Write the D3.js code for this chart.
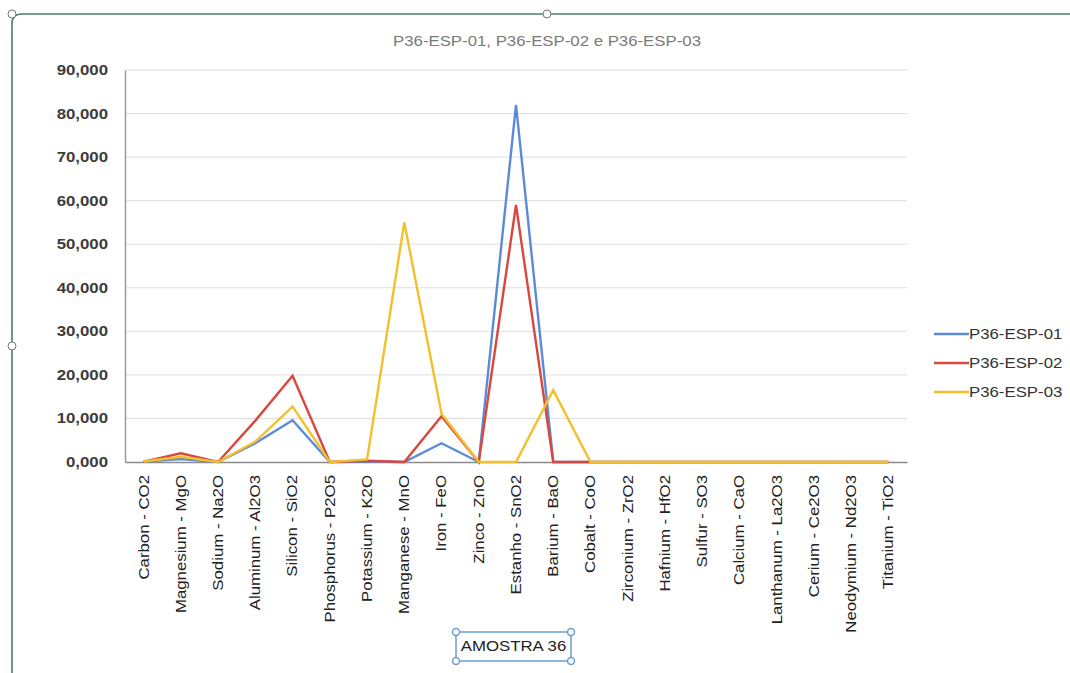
<!DOCTYPE html>
<html>
<head>
<meta charset="utf-8">
<script src="https://cdn.jsdelivr.net/npm/d3@7"></script>
<style>
  html, body { margin: 0; padding: 0; background: #fff; }
  svg { display: block; font-family: "Liberation Sans", Arial, sans-serif; }
</style>
</head>
<body>
<svg id="chart" width="1070" height="673"></svg>
<script>
// Oxide composition of sample 36 (percent by mass)
const categories = [
  "Carbon - CO2", "Magnesium - MgO", "Sodium - Na2O", "Aluminum - Al2O3",
  "Silicon - SiO2", "Phosphorus - P2O5", "Potassium - K2O", "Manganese - MnO",
  "Iron - FeO", "Zinco - ZnO", "Estanho - SnO2", "Barium - BaO", "Cobalt - CoO",
  "Zirconium - ZrO2", "Hafnium - HfO2", "Sulfur - SO3", "Calcium - CaO",
  "Lanthanum - La2O3", "Cerium - Ce2O3", "Neodymium - Nd2O3", "Titanium - TiO2"
];
const seriesNames = ["P36-ESP-01", "P36-ESP-02", "P36-ESP-03"];
const esp01 = [0.1, 0.7, 0.0, 4.3, 9.6, 0.0, 0.1, 0.0, 4.3, 0.0, 82.0, 0.0, 0.0, 0, 0, 0, 0, 0, 0, 0, 0];
const esp02 = [0.1, 2.0, 0.0, 9.5, 19.8, 0.0, 0.3, 0.0, 10.5, 0.0, 59.0, 0.0, 0.0, 0, 0, 0, 0, 0, 0, 0, 0];
const esp03 = [0.1, 1.2, 0.0, 4.7, 12.7, 0.0, 0.6, 55.0, 11.1, 0.0, 0.0, 16.5, 0.0, 0, 0, 0, 0, 0, 0, 0, 0];
const yTicks = [0, 10, 20, 30, 40, 50, 60, 70, 80, 90];
const colors = ["#5b8bd8", "#d9473f", "#f2c02c"];
const title = "P36-ESP-01, P36-ESP-02 e P36-ESP-03";
const axisTitle = "AMOSTRA 36";

const series = [esp01, esp02, esp03];
const svg = d3.select("#chart");

const plot = { left: 125, right: 907, top: 70, bottom: 462 };
const fontSize = 14;
const stretch = 1.2; // widening of the typeface along the reading direction

const x = d3.scaleBand().domain(categories).range([plot.left, plot.right]);
const y = d3.scaleLinear().domain([0, 90]).range([plot.bottom, plot.top]);

const ptBR = d3.formatLocale({ decimal: ",", thousands: ".", grouping: [3], currency: ["R$", ""] });
const fmt = ptBR.format(".3f");

// Horizontal text with a widened face, anchored at (px, py)
function wideText(parent, px, py, str, anchor) {
  return parent.append("text")
    .attr("transform", `translate(${px},${py}) scale(${stretch},1)`)
    .attr("text-anchor", anchor)
    .attr("dy", "0.35em")
    .attr("font-size", fontSize)
    .text(str);
}

// Chart object frame (selection outline)
const frameColor = "#4f7d68";
svg.append("path")
  .attr("d", "M1070,14 L22,14 Q12,14 12,24 L12,673")
  .attr("fill", "none").attr("stroke", frameColor).attr("stroke-width", 1.6);
[[12, 14], [547, 14], [12, 346]].forEach(([cx, cy]) => {
  svg.append("circle").attr("cx", cx).attr("cy", cy).attr("r", 4)
    .attr("fill", "#fff").attr("stroke", "#777").attr("stroke-width", 1);
});

// Title
wideText(svg, 547, 41, title, "middle").attr("fill", "#7a7a7a");

// Gridlines
svg.append("g")
  .selectAll("line")
  .data(yTicks.filter(d => d > 0))
  .join("line")
  .attr("x1", plot.left).attr("x2", plot.right)
  .attr("y1", d => y(d)).attr("y2", d => y(d))
  .attr("stroke", "#dedede").attr("stroke-width", 1);

// Y axis
const yAxis = svg.append("g")
  .attr("transform", `translate(${plot.left},0)`)
  .call(d3.axisLeft(y).tickValues(yTicks).tickFormat(fmt).tickSize(0).tickPadding(0));
yAxis.select(".domain").attr("stroke", "#9a9a9a").attr("stroke-width", 1.5);
yAxis.selectAll("text")
  .attr("x", null)
  .attr("transform", `translate(-17,0) scale(${stretch},1)`)
  .attr("font-size", fontSize).attr("fill", "#3c3c3c").attr("font-weight", "bold")
  .attr("font-family", "'Liberation Sans', Arial, sans-serif");

// X axis with category names reading upward
const xAxis = svg.append("g")
  .attr("transform", `translate(0,${plot.bottom})`)
  .call(d3.axisBottom(x).tickSize(0).tickPadding(0));
xAxis.select(".domain").attr("stroke", "#8a8a8a").attr("stroke-width", 1.5);
xAxis.selectAll("text")
  .attr("font-size", fontSize).attr("fill", "#222")
  .attr("font-family", "'Liberation Sans', Arial, sans-serif")
  .attr("transform", `translate(0,13) rotate(-90) scale(${stretch},1)`)
  .attr("text-anchor", "end")
  .attr("x", 0).attr("y", 0).attr("dy", "0.35em");

// Series lines
const line = d3.line()
  .x((d, i) => x(categories[i]) + x.bandwidth() / 2)
  .y(d => y(d));

series.forEach((vals, k) => {
  svg.append("path")
    .datum(vals)
    .attr("d", line)
    .attr("fill", "none")
    .attr("stroke", colors[k])
    .attr("stroke-width", 2.4)
    .attr("stroke-linejoin", "miter");
});

// Legend
const legend = svg.append("g").attr("transform", "translate(934,334)");
seriesNames.forEach((name, k) => {
  const g = legend.append("g").attr("transform", `translate(0,${k * 29})`);
  g.append("line").attr("x1", 0).attr("x2", 35).attr("y1", 0).attr("y2", 0)
    .attr("stroke", colors[k]).attr("stroke-width", 2.4);
  wideText(g, 35, 0, name, "start").attr("fill", "#333");
});

// Horizontal axis title box
const box = { x: 456, y: 632, w: 115, h: 29 };
svg.append("rect")
  .attr("x", box.x).attr("y", box.y).attr("width", box.w).attr("height", box.h)
  .attr("fill", "#fff").attr("stroke", "#6a9fcf").attr("stroke-width", 1.5);
wideText(svg, box.x + box.w / 2, box.y + box.h / 2, axisTitle, "middle").attr("fill", "#222");
[[box.x, box.y], [box.x + box.w, box.y], [box.x, box.y + box.h], [box.x + box.w, box.y + box.h]]
  .forEach(([cx, cy]) => {
    svg.append("circle").attr("cx", cx).attr("cy", cy).attr("r", 3.5)
      .attr("fill", "#fff").attr("stroke", "#6a9fcf").attr("stroke-width", 1.5);
  });
</script>
</body>
</html>
